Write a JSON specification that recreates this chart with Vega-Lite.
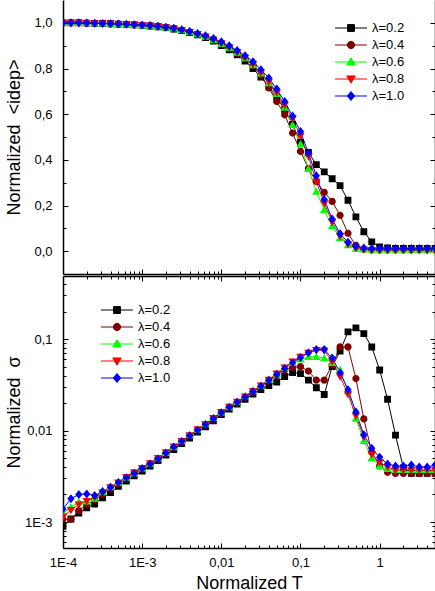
{
"$schema":"https://vega.github.io/schema/vega-lite/v6.json",
"padding":{"left":5,"top":0,"right":0,"bottom":0},
"background":"white",
"spacing":0,
"config":{"font":"Liberation Sans","view":{"stroke":null},
 "axis":{"labelFont":"Liberation Sans","labelFontSize":13,"labelColor":"black","titleFont":"Liberation Sans","titleFontSize":18,"titleFontWeight":"normal","titleColor":"black","domainColor":"black","domainWidth":1.5,"tickColor":"black","tickWidth":1,"grid":false},
 "legend":{"labelFont":"Liberation Sans","labelFontSize":13,"labelColor":"black"}},
"data":{"values":[
{"s":"λ=0.2","x":0.0001,"i":1,"g":0.0009},{"s":"λ=0.2","x":0.0001259,"i":1,"g":0.00108},{"s":"λ=0.2","x":0.0001585,"i":1,"g":0.00125},{"s":"λ=0.2","x":0.0001995,"i":0.999,"g":0.00143},{"s":"λ=0.2","x":0.0002512,"i":0.998,"g":0.00157},{"s":"λ=0.2","x":0.0003162,"i":0.997,"g":0.00184},{"s":"λ=0.2","x":0.0003981,"i":0.996,"g":0.0021},{"s":"λ=0.2","x":0.0005012,"i":0.994,"g":0.00245},{"s":"λ=0.2","x":0.000631,"i":0.993,"g":0.0028},{"s":"λ=0.2","x":0.0007943,"i":0.991,"g":0.0032},
{"s":"λ=0.2","x":0.001,"i":0.989,"g":0.0036},{"s":"λ=0.2","x":0.001259,"i":0.986,"g":0.0041},{"s":"λ=0.2","x":0.001585,"i":0.983,"g":0.0047},{"s":"λ=0.2","x":0.001995,"i":0.979,"g":0.0054},{"s":"λ=0.2","x":0.002512,"i":0.973,"g":0.0062},{"s":"λ=0.2","x":0.003162,"i":0.966,"g":0.0072},{"s":"λ=0.2","x":0.003981,"i":0.957,"g":0.0083},{"s":"λ=0.2","x":0.005012,"i":0.947,"g":0.0096},{"s":"λ=0.2","x":0.00631,"i":0.935,"g":0.011},{"s":"λ=0.2","x":0.007943,"i":0.92,"g":0.0128},
{"s":"λ=0.2","x":0.01,"i":0.9,"g":0.015},{"s":"λ=0.2","x":0.01259,"i":0.882,"g":0.0172},{"s":"λ=0.2","x":0.01585,"i":0.86,"g":0.0195},{"s":"λ=0.2","x":0.01995,"i":0.833,"g":0.022},{"s":"λ=0.2","x":0.02512,"i":0.8,"g":0.025},{"s":"λ=0.2","x":0.03162,"i":0.762,"g":0.028},{"s":"λ=0.2","x":0.03981,"i":0.72,"g":0.031},{"s":"λ=0.2","x":0.05012,"i":0.673,"g":0.034},{"s":"λ=0.2","x":0.0631,"i":0.62,"g":0.039},{"s":"λ=0.2","x":0.07943,"i":0.555,"g":0.043},
{"s":"λ=0.2","x":0.1,"i":0.476,"g":0.042},{"s":"λ=0.2","x":0.1259,"i":0.432,"g":0.0356},{"s":"λ=0.2","x":0.1585,"i":0.379,"g":0.0294},{"s":"λ=0.2","x":0.1995,"i":0.347,"g":0.0248},{"s":"λ=0.2","x":0.2512,"i":0.317,"g":0.05},{"s":"λ=0.2","x":0.3162,"i":0.287,"g":0.074},{"s":"λ=0.2","x":0.3981,"i":0.223,"g":0.12},{"s":"λ=0.2","x":0.5012,"i":0.15,"g":0.133},{"s":"λ=0.2","x":0.631,"i":0.085,"g":0.115},{"s":"λ=0.2","x":0.7943,"i":0.041,"g":0.082},
{"s":"λ=0.2","x":1,"i":0.019,"g":0.046},{"s":"λ=0.2","x":1.259,"i":0.014,"g":0.022},{"s":"λ=0.2","x":1.585,"i":0.012,"g":0.0089},{"s":"λ=0.2","x":1.995,"i":0.012,"g":0.0039},{"s":"λ=0.2","x":2.512,"i":0.012,"g":0.0034},{"s":"λ=0.2","x":3.162,"i":0.012,"g":0.0034},{"s":"λ=0.2","x":3.981,"i":0.012,"g":0.0034},{"s":"λ=0.2","x":5.012,"i":0.012,"g":0.0034},

{"s":"λ=0.4","x":0.0001,"i":1,"g":0.00107},{"s":"λ=0.4","x":0.0001259,"i":1,"g":0.00107},{"s":"λ=0.4","x":0.0001585,"i":1,"g":0.00133},{"s":"λ=0.4","x":0.0001995,"i":0.999,"g":0.00155},{"s":"λ=0.4","x":0.0002512,"i":0.998,"g":0.00175},{"s":"λ=0.4","x":0.0003162,"i":0.997,"g":0.002},{"s":"λ=0.4","x":0.0003981,"i":0.996,"g":0.0023},{"s":"λ=0.4","x":0.0005012,"i":0.995,"g":0.0026},{"s":"λ=0.4","x":0.000631,"i":0.993,"g":0.003},{"s":"λ=0.4","x":0.0007943,"i":0.991,"g":0.0034},
{"s":"λ=0.4","x":0.001,"i":0.989,"g":0.0038},{"s":"λ=0.4","x":0.001259,"i":0.987,"g":0.0043},{"s":"λ=0.4","x":0.001585,"i":0.984,"g":0.0049},{"s":"λ=0.4","x":0.001995,"i":0.98,"g":0.0056},{"s":"λ=0.4","x":0.002512,"i":0.974,"g":0.0065},{"s":"λ=0.4","x":0.003162,"i":0.967,"g":0.0075},{"s":"λ=0.4","x":0.003981,"i":0.959,"g":0.0087},{"s":"λ=0.4","x":0.005012,"i":0.949,"g":0.01},{"s":"λ=0.4","x":0.00631,"i":0.938,"g":0.0115},{"s":"λ=0.4","x":0.007943,"i":0.924,"g":0.0133},
{"s":"λ=0.4","x":0.01,"i":0.906,"g":0.0155},{"s":"λ=0.4","x":0.01259,"i":0.887,"g":0.0178},{"s":"λ=0.4","x":0.01585,"i":0.866,"g":0.0202},{"s":"λ=0.4","x":0.01995,"i":0.842,"g":0.023},{"s":"λ=0.4","x":0.02512,"i":0.815,"g":0.0263},{"s":"λ=0.4","x":0.03162,"i":0.77,"g":0.03},{"s":"λ=0.4","x":0.03981,"i":0.715,"g":0.035},{"s":"λ=0.4","x":0.05012,"i":0.655,"g":0.04},{"s":"λ=0.4","x":0.0631,"i":0.597,"g":0.046},{"s":"λ=0.4","x":0.07943,"i":0.517,"g":0.049},
{"s":"λ=0.4","x":0.1,"i":0.437,"g":0.05},{"s":"λ=0.4","x":0.1259,"i":0.362,"g":0.0447},{"s":"λ=0.4","x":0.1585,"i":0.305,"g":0.0356},{"s":"λ=0.4","x":0.1995,"i":0.258,"g":0.0356},{"s":"λ=0.4","x":0.2512,"i":0.218,"g":0.052},{"s":"λ=0.4","x":0.3162,"i":0.157,"g":0.082},{"s":"λ=0.4","x":0.3981,"i":0.078,"g":0.082},{"s":"λ=0.4","x":0.5012,"i":0.025,"g":0.037},{"s":"λ=0.4","x":0.631,"i":0.008,"g":0.0134},{"s":"λ=0.4","x":0.7943,"i":0.005,"g":0.0058},
{"s":"λ=0.4","x":1,"i":0.005,"g":0.0041},{"s":"λ=0.4","x":1.259,"i":0.005,"g":0.0035},{"s":"λ=0.4","x":1.585,"i":0.005,"g":0.0034},{"s":"λ=0.4","x":1.995,"i":0.005,"g":0.0034},{"s":"λ=0.4","x":2.512,"i":0.005,"g":0.0034},{"s":"λ=0.4","x":3.162,"i":0.005,"g":0.0034},{"s":"λ=0.4","x":3.981,"i":0.005,"g":0.0034},{"s":"λ=0.4","x":5.012,"i":0.005,"g":0.0034},

{"s":"λ=0.6","x":0.0001,"i":1,"g":0.00125},{"s":"λ=0.6","x":0.0001259,"i":1,"g":0.00145},{"s":"λ=0.6","x":0.0001585,"i":1,"g":0.00165},{"s":"λ=0.6","x":0.0001995,"i":0.999,"g":0.00168},{"s":"λ=0.6","x":0.0002512,"i":0.998,"g":0.0018},{"s":"λ=0.6","x":0.0003162,"i":0.997,"g":0.00212},{"s":"λ=0.6","x":0.0003981,"i":0.996,"g":0.0024},{"s":"λ=0.6","x":0.0005012,"i":0.995,"g":0.0027},{"s":"λ=0.6","x":0.000631,"i":0.993,"g":0.00305},{"s":"λ=0.6","x":0.0007943,"i":0.991,"g":0.0034},
{"s":"λ=0.6","x":0.001,"i":0.989,"g":0.00385},{"s":"λ=0.6","x":0.001259,"i":0.987,"g":0.00435},{"s":"λ=0.6","x":0.001585,"i":0.984,"g":0.005},{"s":"λ=0.6","x":0.001995,"i":0.98,"g":0.0057},{"s":"λ=0.6","x":0.002512,"i":0.975,"g":0.0066},{"s":"λ=0.6","x":0.003162,"i":0.968,"g":0.0077},{"s":"λ=0.6","x":0.003981,"i":0.96,"g":0.0089},{"s":"λ=0.6","x":0.005012,"i":0.95,"g":0.0102},{"s":"λ=0.6","x":0.00631,"i":0.939,"g":0.0118},{"s":"λ=0.6","x":0.007943,"i":0.925,"g":0.0137},
{"s":"λ=0.6","x":0.01,"i":0.908,"g":0.0158},{"s":"λ=0.6","x":0.01259,"i":0.89,"g":0.018},{"s":"λ=0.6","x":0.01585,"i":0.869,"g":0.0206},{"s":"λ=0.6","x":0.01995,"i":0.845,"g":0.0238},{"s":"λ=0.6","x":0.02512,"i":0.815,"g":0.0275},{"s":"λ=0.6","x":0.03162,"i":0.778,"g":0.031},{"s":"λ=0.6","x":0.03981,"i":0.736,"g":0.036},{"s":"λ=0.6","x":0.05012,"i":0.688,"g":0.041},{"s":"λ=0.6","x":0.0631,"i":0.628,"g":0.048},{"s":"λ=0.6","x":0.07943,"i":0.553,"g":0.055},
{"s":"λ=0.6","x":0.1,"i":0.468,"g":0.06},{"s":"λ=0.6","x":0.1259,"i":0.36,"g":0.064},{"s":"λ=0.6","x":0.1585,"i":0.26,"g":0.064},{"s":"λ=0.6","x":0.1995,"i":0.18,"g":0.062},{"s":"λ=0.6","x":0.2512,"i":0.109,"g":0.055},{"s":"λ=0.6","x":0.3162,"i":0.058,"g":0.046},{"s":"λ=0.6","x":0.3981,"i":0.026,"g":0.027},{"s":"λ=0.6","x":0.5012,"i":0.011,"g":0.0135},{"s":"λ=0.6","x":0.631,"i":0.007,"g":0.0077},{"s":"λ=0.6","x":0.7943,"i":0.006,"g":0.005},
{"s":"λ=0.6","x":1,"i":0.006,"g":0.0041},{"s":"λ=0.6","x":1.259,"i":0.006,"g":0.0038},{"s":"λ=0.6","x":1.585,"i":0.006,"g":0.0037},{"s":"λ=0.6","x":1.995,"i":0.006,"g":0.0037},{"s":"λ=0.6","x":2.512,"i":0.006,"g":0.0037},{"s":"λ=0.6","x":3.162,"i":0.006,"g":0.0037},{"s":"λ=0.6","x":3.981,"i":0.006,"g":0.0037},{"s":"λ=0.6","x":5.012,"i":0.006,"g":0.0037},

{"s":"λ=0.8","x":0.0001,"i":1,"g":0.00115},{"s":"λ=0.8","x":0.0001259,"i":1,"g":0.00135},{"s":"λ=0.8","x":0.0001585,"i":1,"g":0.00155},{"s":"λ=0.8","x":0.0001995,"i":0.999,"g":0.0017},{"s":"λ=0.8","x":0.0002512,"i":0.998,"g":0.00188},{"s":"λ=0.8","x":0.0003162,"i":0.997,"g":0.0021},{"s":"λ=0.8","x":0.0003981,"i":0.996,"g":0.0024},{"s":"λ=0.8","x":0.0005012,"i":0.995,"g":0.0027},{"s":"λ=0.8","x":0.000631,"i":0.994,"g":0.0031},{"s":"λ=0.8","x":0.0007943,"i":0.992,"g":0.0035},
{"s":"λ=0.8","x":0.001,"i":0.99,"g":0.0039},{"s":"λ=0.8","x":0.001259,"i":0.987,"g":0.0044},{"s":"λ=0.8","x":0.001585,"i":0.984,"g":0.005},{"s":"λ=0.8","x":0.001995,"i":0.98,"g":0.0058},{"s":"λ=0.8","x":0.002512,"i":0.975,"g":0.0067},{"s":"λ=0.8","x":0.003162,"i":0.968,"g":0.0077},{"s":"λ=0.8","x":0.003981,"i":0.96,"g":0.0089},{"s":"λ=0.8","x":0.005012,"i":0.951,"g":0.0103},{"s":"λ=0.8","x":0.00631,"i":0.94,"g":0.0118},{"s":"λ=0.8","x":0.007943,"i":0.927,"g":0.0137},
{"s":"λ=0.8","x":0.01,"i":0.91,"g":0.0159},{"s":"λ=0.8","x":0.01259,"i":0.893,"g":0.0182},{"s":"λ=0.8","x":0.01585,"i":0.872,"g":0.0206},{"s":"λ=0.8","x":0.01995,"i":0.847,"g":0.0235},{"s":"λ=0.8","x":0.02512,"i":0.818,"g":0.027},{"s":"λ=0.8","x":0.03162,"i":0.782,"g":0.031},{"s":"λ=0.8","x":0.03981,"i":0.742,"g":0.036},{"s":"λ=0.8","x":0.05012,"i":0.695,"g":0.042},{"s":"λ=0.8","x":0.0631,"i":0.64,"g":0.049},{"s":"λ=0.8","x":0.07943,"i":0.58,"g":0.057},
{"s":"λ=0.8","x":0.1,"i":0.505,"g":0.064},{"s":"λ=0.8","x":0.1259,"i":0.415,"g":0.071},{"s":"λ=0.8","x":0.1585,"i":0.305,"g":0.076},{"s":"λ=0.8","x":0.1995,"i":0.21,"g":0.075},{"s":"λ=0.8","x":0.2512,"i":0.128,"g":0.057},{"s":"λ=0.8","x":0.3162,"i":0.065,"g":0.039},{"s":"λ=0.8","x":0.3981,"i":0.03,"g":0.025},{"s":"λ=0.8","x":0.5012,"i":0.013,"g":0.0145},{"s":"λ=0.8","x":0.631,"i":0.007,"g":0.0085},{"s":"λ=0.8","x":0.7943,"i":0.005,"g":0.0055},
{"s":"λ=0.8","x":1,"i":0.005,"g":0.0045},{"s":"λ=0.8","x":1.259,"i":0.005,"g":0.004},{"s":"λ=0.8","x":1.585,"i":0.005,"g":0.0037},{"s":"λ=0.8","x":1.995,"i":0.005,"g":0.0037},{"s":"λ=0.8","x":2.512,"i":0.005,"g":0.0037},{"s":"λ=0.8","x":3.162,"i":0.005,"g":0.0037},{"s":"λ=0.8","x":3.981,"i":0.005,"g":0.0037},{"s":"λ=0.8","x":5.012,"i":0.005,"g":0.0037},

{"s":"λ=1.0","x":0.0001,"i":1,"g":0.00139},{"s":"λ=1.0","x":0.0001259,"i":1,"g":0.0018},{"s":"λ=1.0","x":0.0001585,"i":1,"g":0.002},{"s":"λ=1.0","x":0.0001995,"i":0.999,"g":0.00203},{"s":"λ=1.0","x":0.0002512,"i":0.998,"g":0.00195},{"s":"λ=1.0","x":0.0003162,"i":0.997,"g":0.00215},{"s":"λ=1.0","x":0.0003981,"i":0.996,"g":0.0024},{"s":"λ=1.0","x":0.0005012,"i":0.995,"g":0.0027},{"s":"λ=1.0","x":0.000631,"i":0.994,"g":0.00305},{"s":"λ=1.0","x":0.0007943,"i":0.992,"g":0.0034},
{"s":"λ=1.0","x":0.001,"i":0.99,"g":0.00385},{"s":"λ=1.0","x":0.001259,"i":0.988,"g":0.0043},{"s":"λ=1.0","x":0.001585,"i":0.985,"g":0.0049},{"s":"λ=1.0","x":0.001995,"i":0.981,"g":0.0057},{"s":"λ=1.0","x":0.002512,"i":0.976,"g":0.0066},{"s":"λ=1.0","x":0.003162,"i":0.97,"g":0.0076},{"s":"λ=1.0","x":0.003981,"i":0.962,"g":0.0088},{"s":"λ=1.0","x":0.005012,"i":0.953,"g":0.0101},{"s":"λ=1.0","x":0.00631,"i":0.943,"g":0.0116},{"s":"λ=1.0","x":0.007943,"i":0.931,"g":0.0135},
{"s":"λ=1.0","x":0.01,"i":0.917,"g":0.0157},{"s":"λ=1.0","x":0.01259,"i":0.9,"g":0.018},{"s":"λ=1.0","x":0.01585,"i":0.879,"g":0.0204},{"s":"λ=1.0","x":0.01995,"i":0.856,"g":0.0232},{"s":"λ=1.0","x":0.02512,"i":0.83,"g":0.0266},{"s":"λ=1.0","x":0.03162,"i":0.795,"g":0.0305},{"s":"λ=1.0","x":0.03981,"i":0.758,"g":0.0355},{"s":"λ=1.0","x":0.05012,"i":0.71,"g":0.041},{"s":"λ=1.0","x":0.0631,"i":0.655,"g":0.0478},{"s":"λ=1.0","x":0.07943,"i":0.592,"g":0.055},
{"s":"λ=1.0","x":0.1,"i":0.524,"g":0.063},{"s":"λ=1.0","x":0.1259,"i":0.43,"g":0.071},{"s":"λ=1.0","x":0.1585,"i":0.33,"g":0.077},{"s":"λ=1.0","x":0.1995,"i":0.226,"g":0.077},{"s":"λ=1.0","x":0.2512,"i":0.141,"g":0.062},{"s":"λ=1.0","x":0.3162,"i":0.076,"g":0.043},{"s":"λ=1.0","x":0.3981,"i":0.039,"g":0.028},{"s":"λ=1.0","x":0.5012,"i":0.022,"g":0.016},{"s":"λ=1.0","x":0.631,"i":0.014,"g":0.009},{"s":"λ=1.0","x":0.7943,"i":0.012,"g":0.0064},
{"s":"λ=1.0","x":1,"i":0.012,"g":0.0051},{"s":"λ=1.0","x":1.259,"i":0.012,"g":0.0043},{"s":"λ=1.0","x":1.585,"i":0.012,"g":0.0041},{"s":"λ=1.0","x":1.995,"i":0.012,"g":0.0041},{"s":"λ=1.0","x":2.512,"i":0.012,"g":0.0042},{"s":"λ=1.0","x":3.162,"i":0.012,"g":0.004},{"s":"λ=1.0","x":3.981,"i":0.012,"g":0.004},{"s":"λ=1.0","x":5.012,"i":0.012,"g":0.0042}
]},
"resolve":{"scale":{"stroke":"independent","fill":"independent","shape":"independent"},"legend":{"stroke":"independent","fill":"independent","shape":"independent"}},
"vconcat":[
{"width":372,"height":274,
 "layer":[
  {"mark":{"type":"line","strokeWidth":1,"clip":true},
   "encoding":{
    "x":{"field":"x","type":"quantitative","scale":{"type":"log","domain":[0.0001,5],"nice":false},
      "axis":{"orient":"bottom","title":null,"labels":false,"values":[0.0001,0.0002,0.0003,0.0004,0.0005,0.0006,0.0007,0.0008,0.0009,0.001,0.002,0.003,0.004,0.005,0.006,0.007,0.008,0.009,0.01,0.02,0.03,0.04,0.05,0.06,0.07,0.08,0.09,0.1,0.2,0.3,0.4,0.5,0.6,0.7,0.8,0.9,1,2,3,4,5],
        "tickSize":{"condition":{"test":"abs(log(datum.value)/LN10 - round(log(datum.value)/LN10)) < 0.001","value":-5},"value":-3}}},
    "y":{"field":"i","type":"quantitative","scale":{"domain":[-0.1,1.1],"nice":false,"zero":false},
      "axis":{"orient":"left","title":"Normalized\u00a0 <idep>","values":[0,0.1,0.2,0.3,0.4,0.5,0.6,0.7,0.8,0.9,1],
        "labelExpr":"abs(datum.value*5 - round(datum.value*5)) < 0.001 ? replace(format(datum.value, '.1f'), '.', ',') : ''",
        "tickSize":{"condition":{"test":"abs(datum.value*5 - round(datum.value*5)) < 0.001","value":-5},"value":-3},
        "labelPadding":16,"minExtent":32,"maxExtent":32,"titlePadding":8}},
    "stroke":{"field":"s","type":"nominal","scale":{"domain":["λ=0.2","λ=0.4","λ=0.6","λ=0.8","λ=1.0"],"range":["#000000","#800000","#00ff00","#ff0000","#0000ff"]},
      "legend":{"orient":"none","legendX":280,"legendY":20,"title":null,"padding":0,"symbolSize":211,"symbolStrokeWidth":1,"labelOffset":13,"rowPadding":2}}
   }},
  {"mark":{"type":"point","filled":true,"size":211,"opacity":1,"clip":true},
   "encoding":{
    "x":{"field":"x","type":"quantitative","scale":{"type":"log","domain":[0.0001,5],"nice":false},"axis":null},
    "y":{"field":"i","type":"quantitative","scale":{"domain":[-0.1,1.1],"nice":false,"zero":false},
      "axis":{"orient":"right","title":null,"labels":false,"values":[0,0.1,0.2,0.3,0.4,0.5,0.6,0.7,0.8,0.9,1],
        "tickSize":{"condition":{"test":"abs(datum.value*5 - round(datum.value*5)) < 0.001","value":-5},"value":-3}}},
    "fill":{"field":"s","type":"nominal","scale":{"domain":["λ=0.2","λ=0.4","λ=0.6","λ=0.8","λ=1.0"],"range":["#000000","#800000","#00ff00","#ff0000","#0000ff"]},
      "legend":{"orient":"none","legendX":280,"legendY":20,"title":null,"padding":0,"symbolSize":211,"symbolStrokeWidth":1,"labelOffset":13,"rowPadding":2}},
    "shape":{"field":"s","type":"nominal","scale":{"domain":["λ=0.2","λ=0.4","λ=0.6","λ=0.8","λ=1.0"],"range":["M-2.2,0H2.2M-0.47,-0.47H0.47V0.47H-0.47Z","M-2.2,0H2.2M0.5,0A0.5,0.5,0,1,1,-0.5,0A0.5,0.5,0,1,1,0.5,0Z","M-2.2,0H2.2M0,-0.58L0.58,0.42L-0.58,0.42Z","M-2.2,0H2.2M0,0.58L0.58,-0.42L-0.58,-0.42Z","M-2.2,0H2.2M0,-0.62L0.5,0L0,0.62L-0.5,0Z"]},"legend":null}
   }}
 ],
 "resolve":{"axis":{"x":"independent","y":"independent"}}
},
{"width":372,"height":272,
 "layer":[
  {"mark":{"type":"line","strokeWidth":1,"clip":true},
   "encoding":{
    "x":{"field":"x","type":"quantitative","scale":{"type":"log","domain":[0.0001,5],"nice":false},
      "axis":{"orient":"bottom","title":"Normalized T","values":[0.0001,0.0002,0.0003,0.0004,0.0005,0.0006,0.0007,0.0008,0.0009,0.001,0.002,0.003,0.004,0.005,0.006,0.007,0.008,0.009,0.01,0.02,0.03,0.04,0.05,0.06,0.07,0.08,0.09,0.1,0.2,0.3,0.4,0.5,0.6,0.7,0.8,0.9,1,2,3,4,5],
        "labelExpr":"datum.value == 0.0001 ? '1E-4' : datum.value == 0.001 ? '1E-3' : datum.value == 0.01 ? '0,01' : datum.value == 0.1 ? '0,1' : datum.value == 1 ? '1' : ''",
        "tickSize":{"condition":{"test":"abs(log(datum.value)/LN10 - round(log(datum.value)/LN10)) < 0.001","value":-5},"value":-3},
        "labelPadding":13,"titlePadding":3,"labelFlush":false,"labelOverlap":false}},
    "y":{"field":"g","type":"quantitative","scale":{"type":"log","domain":[0.00052,0.49],"nice":false},
      "axis":{"orient":"left","title":"Normalized\u00a0 σ","values":[0.0006,0.0007,0.0008,0.0009,0.001,0.002,0.003,0.004,0.005,0.006,0.007,0.008,0.009,0.01,0.02,0.03,0.04,0.05,0.06,0.07,0.08,0.09,0.1,0.2,0.3,0.4],
        "labelExpr":"datum.value == 0.001 ? '1E-3' : datum.value == 0.01 ? '0,01' : datum.value == 0.1 ? '0,1' : ''",
        "tickSize":{"condition":{"test":"abs(log(datum.value)/LN10 - round(log(datum.value)/LN10)) < 0.001","value":-5},"value":-3},
        "labelPadding":16,"minExtent":32,"maxExtent":32,"titlePadding":8,"labelOverlap":false}},
    "stroke":{"field":"s","type":"nominal","scale":{"domain":["λ=0.2","λ=0.4","λ=0.6","λ=0.8","λ=1.0"],"range":["#000000","#800000","#00ff00","#ff0000","#0000ff"]},
      "legend":{"orient":"none","legendX":46,"legendY":26,"title":null,"padding":0,"symbolSize":211,"symbolStrokeWidth":1,"labelOffset":13,"rowPadding":2}}
   }},
  {"mark":{"type":"point","filled":true,"size":211,"opacity":1,"clip":true},
   "encoding":{
    "x":{"field":"x","type":"quantitative","scale":{"type":"log","domain":[0.0001,5],"nice":false},
      "axis":{"orient":"top","title":null,"labels":false,"values":[0.0001,0.0002,0.0003,0.0004,0.0005,0.0006,0.0007,0.0008,0.0009,0.001,0.002,0.003,0.004,0.005,0.006,0.007,0.008,0.009,0.01,0.02,0.03,0.04,0.05,0.06,0.07,0.08,0.09,0.1,0.2,0.3,0.4,0.5,0.6,0.7,0.8,0.9,1,2,3,4,5],
        "tickSize":{"condition":{"test":"abs(log(datum.value)/LN10 - round(log(datum.value)/LN10)) < 0.001","value":-5},"value":-3}}},
    "y":{"field":"g","type":"quantitative","scale":{"type":"log","domain":[0.00052,0.49],"nice":false},
      "axis":{"orient":"right","title":null,"labels":false,"values":[0.0006,0.0007,0.0008,0.0009,0.001,0.002,0.003,0.004,0.005,0.006,0.007,0.008,0.009,0.01,0.02,0.03,0.04,0.05,0.06,0.07,0.08,0.09,0.1,0.2,0.3,0.4],
        "tickSize":{"condition":{"test":"abs(log(datum.value)/LN10 - round(log(datum.value)/LN10)) < 0.001","value":-5},"value":-3}}},
    "fill":{"field":"s","type":"nominal","scale":{"domain":["λ=0.2","λ=0.4","λ=0.6","λ=0.8","λ=1.0"],"range":["#000000","#800000","#00ff00","#ff0000","#0000ff"]},
      "legend":{"orient":"none","legendX":46,"legendY":26,"title":null,"padding":0,"symbolSize":211,"symbolStrokeWidth":1,"labelOffset":13,"rowPadding":2}},
    "shape":{"field":"s","type":"nominal","scale":{"domain":["λ=0.2","λ=0.4","λ=0.6","λ=0.8","λ=1.0"],"range":["M-2.2,0H2.2M-0.47,-0.47H0.47V0.47H-0.47Z","M-2.2,0H2.2M0.5,0A0.5,0.5,0,1,1,-0.5,0A0.5,0.5,0,1,1,0.5,0Z","M-2.2,0H2.2M0,-0.58L0.58,0.42L-0.58,0.42Z","M-2.2,0H2.2M0,0.58L0.58,-0.42L-0.58,-0.42Z","M-2.2,0H2.2M0,-0.62L0.5,0L0,0.62L-0.5,0Z"]},"legend":null}
   }}
 ],
 "resolve":{"axis":{"x":"independent","y":"independent"}}
}
]
}
